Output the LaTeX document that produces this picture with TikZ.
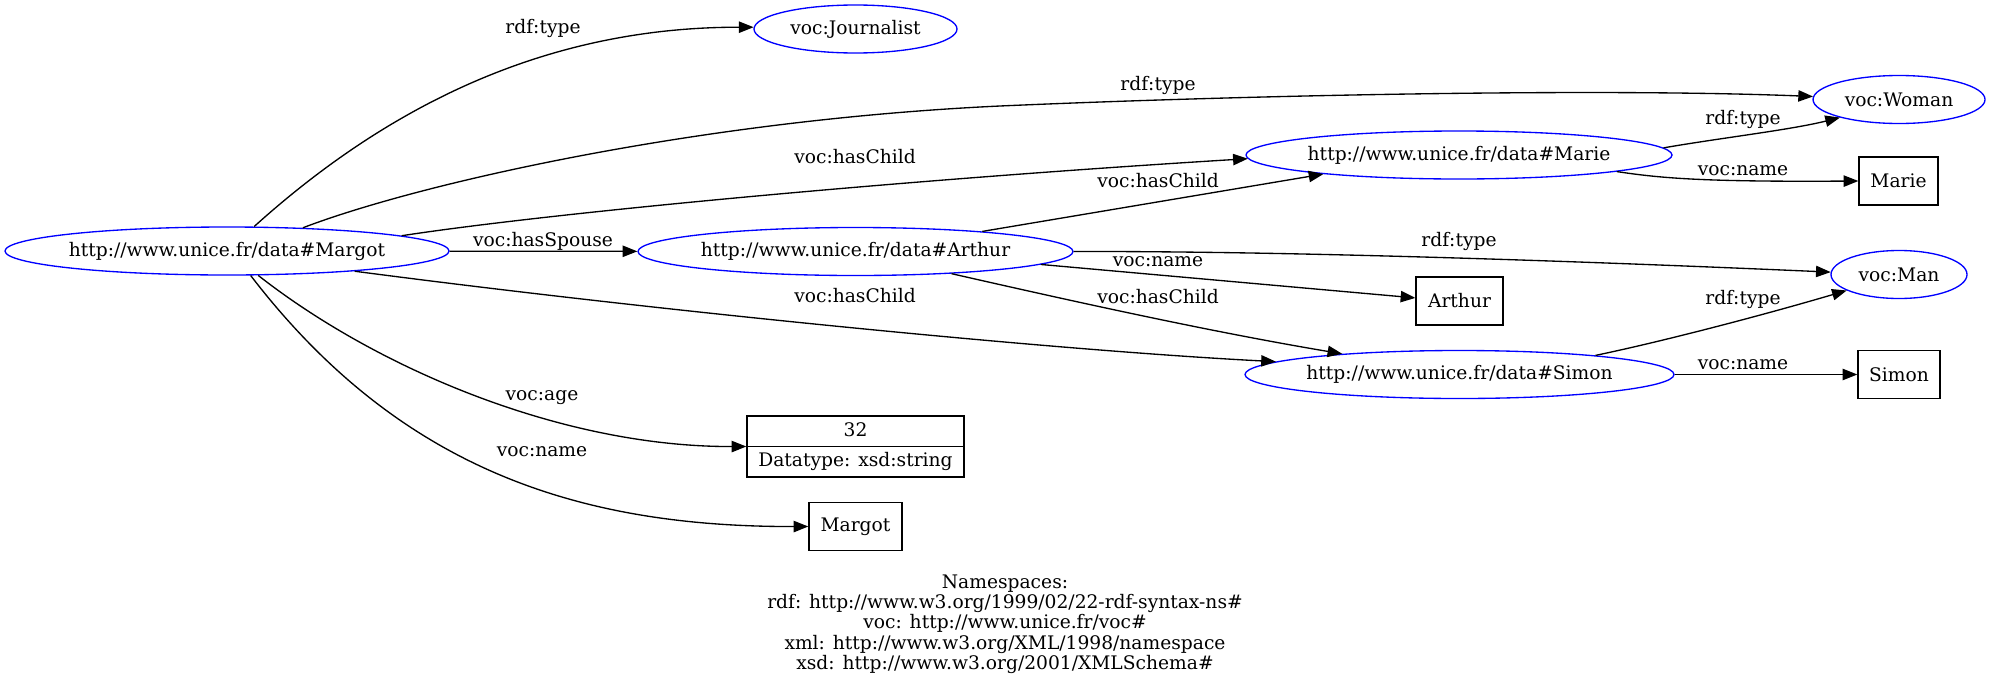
\documentclass[tikz,border=0pt]{standalone}
\usepackage{fontspec}
\setmainfont{DejaVu Serif}
\usetikzlibrary{arrows.meta,shapes.geometric}
\begin{document}
\begin{tikzpicture}[x=0.75pt,y=-0.75pt,
  font=\fontsize{14}{15.2}\selectfont,
  res/.style={ellipse, draw=blue, line width=1pt, inner sep=0pt, minimum height=36pt},
  lit/.style={rectangle, draw=black, line width=1pt, inner sep=0pt, minimum height=36pt},
  edge/.style={draw=black, line width=1pt, -{Triangle[length=11pt,width=8.5pt]}},
  lbl/.style={inner sep=0pt, anchor=base},
]
\useasboundingbox (0,0) rectangle (1990,689);

% resources
\node[res, minimum width=333pt]    (margot)     at (227,251)     {\makebox[0pt]{http://www.unice.fr/data\#Margot}};
\node[res, minimum width=326.25pt] (arthur)     at (855.5,251.5) {\makebox[0pt]{http://www.unice.fr/data\#Arthur}};
\node[res, minimum width=152.25pt] (journalist) at (855.5,29)    {\makebox[0pt]{voc:Journalist}};
\node[res, minimum width=129pt]    (woman)      at (1899,99.5)   {\makebox[0pt]{voc:Woman}};
\node[res, minimum width=319.5pt]  (marie)      at (1459,155)    {\makebox[0pt]{http://www.unice.fr/data\#Marie}};
\node[res, minimum width=102pt]    (man)        at (1899,274.5)  {\makebox[0pt]{voc:Man}};
\node[res, minimum width=321.75pt] (simon)      at (1459.5,374.5){\makebox[0pt]{http://www.unice.fr/data\#Simon}};

% literals
\node[lit, minimum width=59.25pt] (marielit)  at (1898.5,181)  {Marie};
\node[lit, minimum width=65.25pt] (arthurlit) at (1459.5,301)  {Arthur};
\node[lit, minimum width=61.5pt]  (simonlit)  at (1899,374.5)  {Simon};
\node[lit, minimum width=69.75pt] (margotlit) at (855.5,526.5) {Margot};

% typed literal (record)
\node[lit, minimum width=162.75pt, minimum height=45.75pt] (age) at (855.5,446.5) {};
\draw[line width=1pt] (age.west) -- (age.east);
\node[lbl] (ageval) at (855.5,436) {32};
\node[lbl] (agedt)  at (855.5,466.7) {Datatype: xsd:string};

% edges
\draw[edge] (margot.42.6) .. controls (400,95) and (560,27) .. (journalist.179);
\draw[edge] (margot.17.4) .. controls (420,183) and (700,120) .. (1000,106)
            .. controls (1250,95) and (1600,88) .. (woman.178.3);
\draw[edge] (margot.5.7) .. controls (550,213) and (900,180) .. (marie.181.7);
\draw[edge] (margot) -- (arthur);
\draw[edge] (margot.-9) .. controls (650,310) and (1050,350) .. (simon.176.1);
\draw[edge] (margot.-38.7) .. controls (375,367) and (560,447) .. (age.west);
\draw[edge] (margot.-46.2) .. controls (400,470) and (580,527) .. (margotlit.west);
\draw[edge] (arthur.9.1) -- (marie.188.9);
\draw[edge] (arthur.east) .. controls (1300,251) and (1600,262) .. (man.178.7);
\draw[edge] (arthur.-4.7) -- (arthurlit.176);
\draw[edge] (arthur.-13.2) .. controls (1050,296) and (1200,330) .. (simon.170.9);
\draw[edge] (marie.2.9) .. controls (1720,138) and (1790,130) .. (woman.197.1);
\draw[edge] (marie.-6.7) .. controls (1660,178) and (1700,182) .. (marielit.west);
\draw[edge] (simon.8.6) .. controls (1660,342) and (1760,316) .. (man.197.9);
\draw[edge] (simon) -- (simonlit);

% edge labels
\node[lbl] (l1)  at (543,33.3)   {rdf:type};
\node[lbl] (l2)  at (1158,90.7)  {rdf:type};
\node[lbl] (l3)  at (855,163.3)  {voc:hasChild};
\node[lbl] (l4)  at (543,246.7)  {voc:hasSpouse};
\node[lbl] (l5)  at (855,302.7)  {voc:hasChild};
\node[lbl] (l6)  at (542,400)    {voc:age};
\node[lbl] (l7)  at (542,456)    {voc:name};
\node[lbl] (l8)  at (1158,187.3) {voc:hasChild};
\node[lbl] (l9)  at (1459,246)   {rdf:type};
\node[lbl] (l10) at (1158,266.7) {voc:name};
\node[lbl] (l11) at (1158,303.3) {voc:hasChild};
\node[lbl] (l12) at (1743,124)   {rdf:type};
\node[lbl] (l13) at (1743,175)   {voc:name};
\node[lbl] (l14) at (1743,304)   {rdf:type};
\node[lbl] (l15) at (1743,369.3) {voc:name};

% namespaces
\node[inner sep=0pt, align=center] (ns) at (1005,624) {Namespaces:\\
rdf: http://www.w3.org/1999/02/22-rdf-syntax-ns\#\\
voc: http://www.unice.fr/voc\#\\
xml: http://www.w3.org/XML/1998/namespace\\
xsd: http://www.w3.org/2001/XMLSchema\#};
\end{tikzpicture}
\end{document}
